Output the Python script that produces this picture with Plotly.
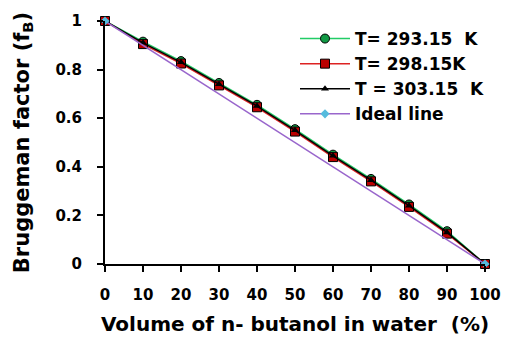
import plotly.graph_objects as go

volume = [0, 10, 20, 30, 40, 50, 60, 70, 80, 90, 100]
f_293 = [1.0, 0.915, 0.835, 0.745, 0.655, 0.555, 0.45, 0.35, 0.245, 0.135, 0.0]
f_298 = [1.0, 0.905, 0.825, 0.735, 0.645, 0.545, 0.44, 0.34, 0.235, 0.125, 0.0]
f_303 = [1.0, 0.91, 0.83, 0.74, 0.65, 0.55, 0.445, 0.345, 0.24, 0.13, 0.0]
ideal_x = [0, 100]
ideal_y = [1.0, 0.0]

x_ticks = [0, 10, 20, 30, 40, 50, 60, 70, 80, 90, 100]
y_ticks = [0, 0.2, 0.4, 0.6, 0.8, 1]
y_tick_labels = ["0", "0.2", "0.4", "0.6", "0.8", "1"]

font = "DejaVu Sans"

fig = go.Figure()
fig.add_trace(go.Scatter(x=volume, y=f_293, name="T= 293.15  K", mode="lines+markers",
                         line=dict(color="#22CC66", width=1.5),
                         marker=dict(symbol="circle", size=9, color="#119944",
                                     line=dict(color="black", width=1)),
                         cliponaxis=False, legendrank=1))
fig.add_trace(go.Scatter(x=volume, y=f_298, name="T= 298.15K", mode="lines+markers",
                         line=dict(color="#DD2222", width=1.5),
                         marker=dict(symbol="square", size=9, color="#BB0000",
                                     line=dict(color="black", width=1)),
                         cliponaxis=False, legendrank=2))
fig.add_trace(go.Scatter(x=volume, y=f_303, name="T = 303.15  K", mode="lines+markers",
                         line=dict(color="black", width=1.5),
                         marker=dict(symbol="triangle-up", size=7, color="black"),
                         cliponaxis=False, legendrank=3))
fig.add_trace(go.Scatter(x=ideal_x, y=ideal_y, name="Ideal line", mode="lines+markers",
                         line=dict(color="#9966CC", width=1.5),
                         marker=dict(symbol="diamond", size=7, color="#55BBDD"),
                         cliponaxis=False, legendrank=4))

fig.update_layout(
    width=514, height=344,
    margin=dict(l=105, r=29, t=21, b=78),
    plot_bgcolor="white", paper_bgcolor="white",
    font=dict(family=font, size=13, color="black"),
    showlegend=True,
    legend=dict(x=0.5, y=1.0, xanchor="left", yanchor="top",
                font=dict(family=font, size=17, color="black", weight="bold"),
                bgcolor="rgba(0,0,0,0)", itemwidth=50,
                traceorder="normal"),
    xaxis=dict(range=[0, 100], tickvals=x_ticks, ticks="outside", ticklen=6,
               tickwidth=1.5, tickcolor="black", showline=True, linecolor="black",
               linewidth=2, showgrid=False, zeroline=False, ticklabelstandoff=10,
               tickfont=dict(family=font, size=15, weight="bold"),
               title=dict(text="Volume of n- butanol in water  (%)",
                          font=dict(family=font, size=20, weight="bold"), standoff=14)),
    yaxis=dict(range=[0, 1], tickvals=y_ticks, ticktext=y_tick_labels, ticks="outside",
               ticklen=6, tickwidth=1.5, tickcolor="black", showline=True,
               linecolor="black", linewidth=2, showgrid=False, zeroline=False,
               ticklabelstandoff=12,
               tickfont=dict(family=font, size=15, weight="bold"),
               title=dict(text="Bruggeman factor (f<sub>B</sub>)",
                          font=dict(family=font, size=21, weight="bold"), standoff=20)),
)

fig.write_html("out.html")
